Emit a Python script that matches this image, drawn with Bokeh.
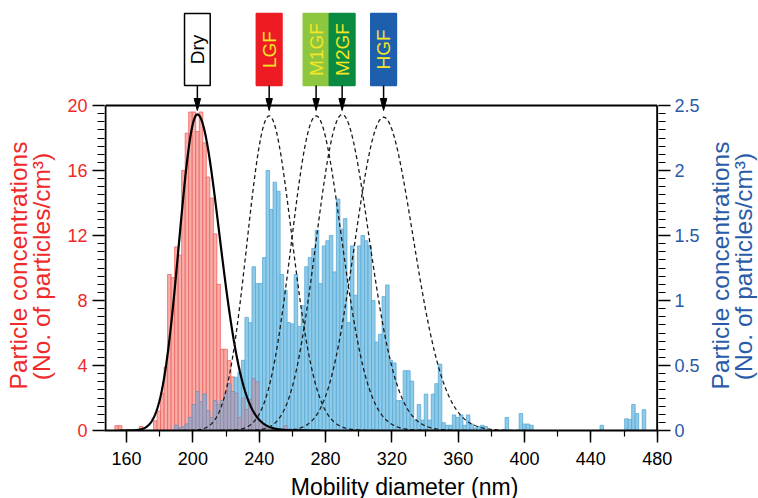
import numpy as np
from bokeh.plotting import figure
from bokeh.models import Range1d, LinearAxis, SingleIntervalTicker, FixedTicker, ColumnDataSource
from bokeh.layouts import column, row
from bokeh.embed import file_html
from bokeh.resources import INLINE
from bokeh.core.properties import value

FONT = "Liberation Sans"
RED = "#ee2a2a"
BLUE = "#2a5ba8"

# ---- size distribution data -------------------------------------------------
# mobility-diameter bins (nm): left edge of the first bin and bin width
bin_start = 150.84
bin_width = 2.12

# dry particles, left axis (No. of particles/cm3)
dry_counts = [
    0, 0.3, 0.3, 0, 0, 0, 0, 0, 0.25, 0,
    0, 0, 0.6, 1.2, 2.3, 3.9, 9.6, 9.4, 11.3, 10.8,
    16.0, 18.3, 19.6, 19.6, 18.4, 19.6, 17.7, 15.6, 14.3, 12.1,
    9.0, 5.0, 5.0, 4.3, 3.3, 2.3, 0.8, 2.0, 1.3, 1.9,
    3.2, 3.0, 0.6, 0.3, 0.2, 0.2, 0.1, 0.1, 0.1, 0.3,
    0.1, 0, 0, 0, 0, 0, 0, 0, 0, 0,
    0, 0, 0, 0, 0, 0, 0, 0, 0, 0,
    0, 0, 0, 0, 0, 0, 0, 0, 0, 0,
    0, 0, 0, 0, 0, 0, 0, 0, 0, 0,
    0, 0, 0, 0, 0, 0, 0, 0, 0, 0,
    0, 0, 0, 0, 0, 0, 0, 0, 0, 0,
    0, 0, 0, 0, 0, 0, 0, 0, 0, 0,
    0, 0, 0, 0, 0, 0, 0, 0, 0, 0,
    0, 0, 0, 0, 0, 0, 0, 0, 0, 0,
    0, 0, 0, 0, 0, 0, 0, 0, 0, 0,
    0, 0, 0, 0, 0,
]

# humidified particles, right axis (No. of particles/cm3)
humid_counts = [
    0, 0, 0, 0, 0, 0, 0, 0, 0, 0,
    0, 0, 0, 0, 0, 0, 0, 0, 0.04, 0.02,
    0.03, 0.05, 0.1, 0.2, 0.3, 0.22, 0.28, 0.15, 0.1, 0.23,
    0.2, 0.23, 0.28, 0.36, 0.3, 0.41, 0.45, 0.54, 0.87, 0.83,
    1.26, 1.13, 1.13, 1.33, 2.0, 1.7, 1.91, 1.84, 1.2, 1.08,
    0.83, 0.82, 1.2, 0.8, 0.96, 1.26, 1.33, 1.4, 1.54, 1.13,
    1.42, 1.46, 1.5, 1.22, 1.78, 1.55, 1.63, 0.83, 1.42, 1.04,
    1.42, 1.5, 1.46, 1.42, 1.0, 0.68, 0.74, 1.03, 1.12, 0.54,
    0.52, 0.23, 0.23, 0.46, 0.46, 0.38, 0.08, 0.2, 0.08, 0.28,
    0.08, 0.28, 0.36, 0.51, 0.06, 0.04, 0.04, 0.12, 0.1, 0.12,
    0.04, 0.12, 0.05, 0.02, 0.03, 0.04, 0.03, 0, 0, 0,
    0, 0, 0.1, 0, 0, 0, 0.13, 0.05, 0.05, 0.04,
    0, 0, 0, 0, 0, 0, 0, 0, 0, 0,
    0, 0, 0, 0, 0, 0, 0, 0, 0, 0.04,
    0, 0, 0, 0, 0, 0, 0.09, 0.085, 0.2, 0.13,
    0, 0.16, 0, 0, 0,
]

# ---- fitted modes ----------------------------------------------------------
mode_names = ["Dry", "LGF", "M1GF", "M2GF", "HGF"]
mode_diameters = [202.7, 246.0, 274.3, 290.0, 315.0]
mode_box_fill = ["white", "#ed1c24", "#8dc63f", "#0b8a42", "#1e5fad"]
mode_box_line = ["black", "#ed1c24", "#8dc63f", "#0b8a42", "#1e5fad"]
mode_text_color = ["black", "#f5e625", "#f5e625", "#f5e625", "#f5e625"]

# dry mode: lognormal with different spread below / above the mode
dry_peak = 19.45
dry_gsd_low = 0.055
dry_gsd_high = 0.065
# humidified modes (right axis): lognormal peak height and ln-spread
growth_peaks = [2.42, 2.42, 2.43, 2.41]
growth_gsd = [0.055, 0.055, 0.055, 0.056]

left_ticks = [0, 4, 8, 12, 16, 20]
right_ticks = [0, 0.5, 1, 1.5, 2, 2.5]
right_tick_labels = ["0", "0.5", "1", "1.5", "2", "2.5"]

# ---- layout (canvas pixels) -----------------------------------------------------
W, H = 758, 498
LEFT_W, RIGHT_W = 56, 54                 # strips carrying the y-axis titles
MID_W = W - LEFT_W - RIGHT_W
AX_L, AX_R, AX_T, AX_B = 105, 656.7, 105, 430   # axis box
FRAME_L, FRAME_R = 104, 658                     # plotting frame
MAIN_H, BOTTOM_H = 474, 24

X_AXIS = (147.3, 480.0)
LEFT_MAX, RIGHT_MAX = 20.0, 2.5
SCALE = LEFT_MAX / RIGHT_MAX
px_per_nm = (AX_R - AX_L) / (X_AXIS[1] - X_AXIS[0])
px_per_unit = (AX_B - AX_T) / LEFT_MAX


def nm_at(px):
    return X_AXIS[0] + (px - AX_L) / px_per_nm


def left_at(py):
    return (AX_B - py) / px_per_unit


main = figure(width=MID_W, height=MAIN_H, title=None,
              x_range=Range1d(nm_at(FRAME_L), nm_at(FRAME_R)),
              y_range=Range1d(0, left_at(0)),
              output_backend="svg", toolbar_location=None,
              x_axis_location=None, y_axis_location=None,
              min_border_left=FRAME_L - LEFT_W, min_border_right=LEFT_W + MID_W - FRAME_R,
              min_border_top=0, min_border_bottom=MAIN_H - AX_B)
main.extra_y_ranges = {"humid": Range1d(0, left_at(0) / SCALE)}
main.outline_line_color = None
main.grid.grid_line_color = None
main.background_fill_color = "white"
main.border_fill_color = "white"

dry = np.array(dry_counts, dtype=float)
hum = np.array(humid_counts, dtype=float)
centers = bin_start + bin_width * (np.arange(len(dry)) + 0.5)

m = dry > 0
main.vbar(x=centers[m], top=dry[m], width=bin_width,
          fill_color="#f8aea9", line_color="#ee625d", line_width=0.8)
m = hum > 0
main.vbar(x=centers[m], top=hum[m], width=bin_width, y_range_name="humid",
          fill_color="#8ecbe9", line_color="#5aa9d5", line_width=0.8)
# where both distributions overlap
both = (dry > 0) & (hum > 0)
overlap = np.minimum(dry, hum * SCALE)
main.vbar(x=centers[both], top=overlap[both], width=bin_width,
          fill_color="#aaa7c0", line_color="#8d89a8", line_width=0.8)

# dry fit
d0 = mode_diameters[0]
xs = np.linspace(d0 * np.exp(-4.8 * dry_gsd_low), d0 * np.exp(4.8 * dry_gsd_high), 400)
z = np.log(xs / d0)
s = np.where(z < 0, dry_gsd_low, dry_gsd_high)
main.line(xs, dry_peak * np.exp(-0.5 * (z / s) ** 2), line_color="black", line_width=2.2)

# humidified fits
for d, a, sg in zip(mode_diameters[1:], growth_peaks, growth_gsd):
    xs = np.linspace(d * np.exp(-4.3 * sg), d * np.exp(4.3 * sg), 400)
    ys = a * np.exp(-0.5 * (np.log(xs / d) / sg) ** 2)
    main.line(xs, ys, y_range_name="humid", line_color="#1a1a1a",
              line_width=1.3, line_dash="4 3")

# axis box: left, right and top lines
main.segment(x0=[X_AXIS[0], X_AXIS[1], X_AXIS[0]], y0=[0, 0, LEFT_MAX],
             x1=[X_AXIS[0], X_AXIS[1], X_AXIS[1]], y1=[LEFT_MAX, LEFT_MAX, LEFT_MAX],
             line_color="black", line_width=2)

# mode markers above the axis box
box_half = 7.75
boxes = ColumnDataSource(dict(
    left=[d - box_half for d in mode_diameters],
    right=[d + box_half for d in mode_diameters],
    x=mode_diameters, name=mode_names,
    fill=mode_box_fill, line=mode_box_line, tcolor=mode_text_color,
))
box_bottom, box_top = left_at(85), left_at(13)
main.quad(left="left", right="right", bottom=box_bottom, top=box_top, source=boxes,
          fill_color="fill", line_color="line", line_width=1.5)
main.text(x="x", y=(box_bottom + box_top) / 2, text="name", source=boxes, angle=np.pi / 2,
          text_align="center", text_baseline="middle", text_color="tcolor",
          text_font=value(FONT), text_font_size="19px")
main.segment(x0="x", y0=box_bottom, x1="x", y1=left_at(99), source=boxes,
             line_color="black", line_width=1.5)
head_half = 3.2 / px_per_nm
heads = ColumnDataSource(dict(
    xs=[[d - head_half, d + head_half, d] for d in mode_diameters],
    ys=[[left_at(98), left_at(98), left_at(110)] for _ in mode_diameters]))
main.patches("xs", "ys", source=heads, fill_color="black", line_color="black", line_width=1)


def style_axis(ax, color, minor_out=7):
    ax.axis_line_color = None
    ax.major_tick_line_color = "black"
    ax.major_tick_line_width = 1.5
    ax.minor_tick_line_color = "black"
    ax.minor_tick_line_width = 1.2
    ax.major_tick_in = 0
    ax.major_tick_out = 12
    ax.minor_tick_in = 0
    ax.minor_tick_out = minor_out
    ax.major_label_text_font = FONT
    ax.major_label_text_font_size = "18px"
    ax.major_label_text_color = color


xax = LinearAxis(ticker=SingleIntervalTicker(interval=40, num_minor_ticks=2))
style_axis(xax, "black", minor_out=6)
xax.axis_line_color = "black"
xax.axis_line_width = 2
xax.major_label_standoff = 9
main.add_layout(xax, "below")

lax = LinearAxis(ticker=FixedTicker(ticks=left_ticks,
                                    minor_ticks=list(np.arange(0, LEFT_MAX + 0.01, 0.5))))
style_axis(lax, RED)
lax.major_label_standoff = 5
main.add_layout(lax, "left")

rax = LinearAxis(y_range_name="humid",
                 ticker=FixedTicker(ticks=right_ticks,
                                    minor_ticks=list(np.arange(0, RIGHT_MAX + 0.001, 0.0625))))
style_axis(rax, BLUE)
rax.major_label_standoff = 4
rax.major_label_overrides = dict(zip(right_ticks, right_tick_labels))
main.add_layout(rax, "right")


# ---- axis titles in their own strips --------------------------------------------
def strip(width, height):
    f = figure(width=width, height=height, title=None,
               x_range=Range1d(0, width), y_range=Range1d(0, height),
               output_backend="svg", toolbar_location=None,
               x_axis_location=None, y_axis_location=None, min_border=0,
               min_border_left=0, min_border_right=0, min_border_top=0, min_border_bottom=0)
    f.outline_line_color = None
    f.grid.grid_line_color = None
    f.background_fill_color = "white"
    f.border_fill_color = "white"
    return f


y_title_size = "24.5px"
left_strip = strip(LEFT_W, H)
left_strip.text(x=[18, 41], y=[H - 265, H - 266],
                text=["Particle concentrations", "(No. of particles/cm³)"],
                angle=np.pi / 2, text_align="center", text_baseline="middle",
                text_color=RED, text_font=value(FONT), text_font_size=y_title_size)

right_strip = strip(RIGHT_W, H)
x_r = W - RIGHT_W
right_strip.text(x=[720 - x_r, 743 - x_r], y=[H - 265, H - 266],
                 text=["Particle concentrations", "(No. of particles/cm³)"],
                 angle=np.pi / 2, text_align="center", text_baseline="middle",
                 text_color=BLUE, text_font=value(FONT), text_font_size=y_title_size)

bottom_strip = strip(MID_W, BOTTOM_H)
bottom_strip.text(x=[407 - LEFT_W], y=[H - 486], text=["Mobility diameter (nm)"],
                  text_align="center", text_baseline="middle", text_color="black",
                  text_font=value(FONT), text_font_size="23px")

layout = row(left_strip, column(main, bottom_strip, spacing=0), right_strip, spacing=0)
open("out.html", "w").write(file_html(layout, INLINE))
